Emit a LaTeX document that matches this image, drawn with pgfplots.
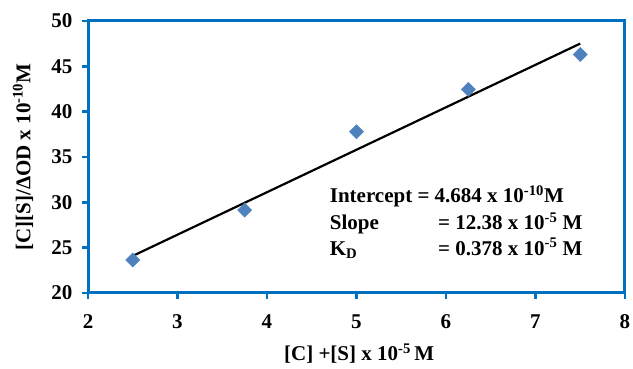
\documentclass[border=0pt]{standalone}
\usepackage{pgfplots}
\pgfplotsset{compat=1.18}
\usepackage{fontspec}
\setmainfont{Liberation Serif}
\definecolor{axisblue}{RGB}{0,112,192}
\definecolor{markblue}{RGB}{79,129,189}
\newcommand{\lblfont}{\fontsize{21}{25}\selectfont\bfseries}
\begin{document}
\begin{tikzpicture}[x=1pt,y=1pt]
\begin{axis}[
  at={(88pt,76pt)}, anchor=south west,
  scale only axis, width=537pt, height=272pt,
  xmin=2, xmax=8, ymin=20, ymax=50,
  xtick={2,3,...,8}, ytick={20,25,...,50},
  axis line style={axisblue, line width=3pt},
  tick style={axisblue, line width=2.6pt},
  tick align=outside, major tick length=6pt,
  xtick pos=bottom, ytick pos=left,
  /pgf/number format/assume math mode=true,
  tick label style={font=\lblfont, black},
  xticklabel style={yshift=-12pt},
  yticklabel style={xshift=-6pt},
  xlabel={[C] +[S] x 10\textsuperscript{-5}\,M},
  ylabel={[C][S]/ΔOD x 10\textsuperscript{-10}M},
  label style={font=\lblfont},
  xlabel style={at={(axis description cs:0.505,-0.25)}, anchor=base},
  ylabel style={at={(axis description cs:-0.121,0.5)}, anchor=center},
  clip=false,
]
% measured points
\addplot[only marks, mark=square*, mark size=5pt,
  mark options={rotate=45, fill=markblue, draw=markblue}]
  coordinates {(2.5,23.64) (3.75,29.15) (5.0,37.78) (6.25,42.46) (7.5,46.30)};
% least-squares line y = 12.38 + 4.684 x
\addplot[black, line width=2.2pt] coordinates {(2.5,24.09) (7.5,47.51)};
\node[anchor=base west, font=\lblfont, inner sep=0pt] at (axis cs:4.70,29.93)
  {Intercept = 4.684 x 10\textsuperscript{-10}M};
\node[anchor=base west, font=\lblfont, inner sep=0pt] at (axis cs:4.70,26.95) {Slope};
\node[anchor=base west, font=\lblfont, inner sep=0pt] at (axis cs:5.91,26.95)
  {= 12.38 x 10\textsuperscript{-5} M};
\node[anchor=base west, font=\lblfont, inner sep=0pt] at (axis cs:4.70,24.19) {K\textsubscript{D}};
\node[anchor=base west, font=\lblfont, inner sep=0pt] at (axis cs:5.91,24.19)
  {= 0.378 x 10\textsuperscript{-5} M};
\end{axis}
\pgfresetboundingbox
\useasboundingbox (0,0) rectangle (633,369);
\end{tikzpicture}
\end{document}
